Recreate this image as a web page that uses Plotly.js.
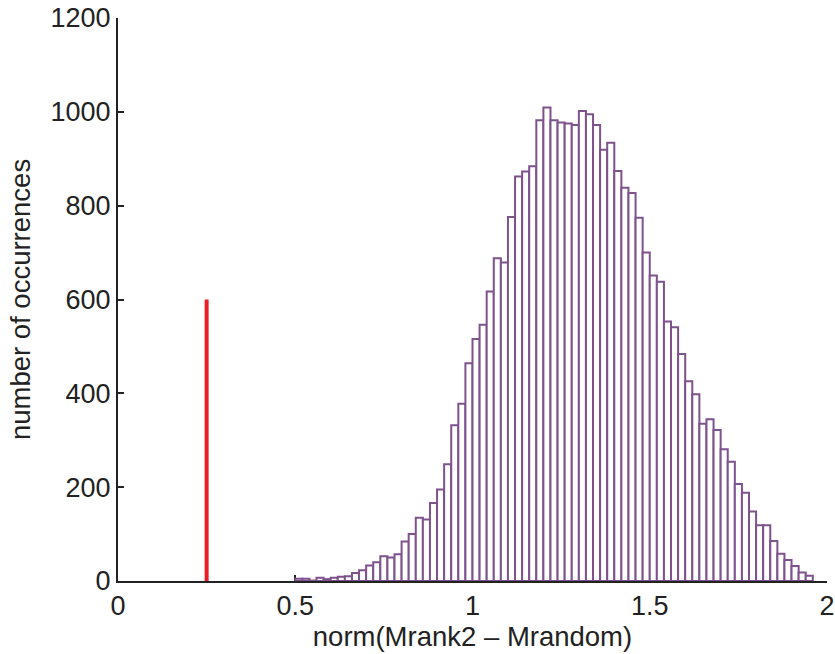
<!DOCTYPE html>
<html>
<head>
<meta charset="utf-8">
<script src="https://cdn.plot.ly/plotly-3.0.1.min.js"></script>
<style>
  html, body { margin: 0; padding: 0; background: #ffffff; }
  #chart { width: 835px; height: 654px; }
</style>
</head>
<body>
<div id="chart"></div>
<script>
// Histogram bin centres (bin width 0.02)
const binCenters = [
  0.51,0.53,0.55,0.57,0.59,0.61,0.63,0.65,0.67,0.69,
  0.71,0.73,0.75,0.77,0.79,0.81,0.83,0.85,0.87,0.89,
  0.91,0.93,0.95,0.97,0.99,1.01,1.03,1.05,1.07,1.09,
  1.11,1.13,1.15,1.17,1.19,1.21,1.23,1.25,1.27,1.29,
  1.31,1.33,1.35,1.37,1.39,1.41,1.43,1.45,1.47,1.49,
  1.51,1.53,1.55,1.57,1.59,1.61,1.63,1.65,1.67,1.69,
  1.71,1.73,1.75,1.77,1.79,1.81,1.83,1.85,1.87,1.89,
  1.91,1.93,1.95
];
const binWidth = 0.02;
// Number of occurrences in each bin
const counts = [
  5,5,1,7,4,7,9,10,17,23,
  33,40,53,50,57,84,100,135,131,166,
  195,249,332,378,464,516,546,617,688,679,
  776,862,873,884,982,1009,982,977,975,972,
  1002,995,972,919,934,874,838,827,774,700,
  651,638,553,541,484,426,398,335,345,322,
  281,254,207,188,148,119,119,85,58,45,
  32,18,11
];
// Reference value (red line)
const refX = [0.25, 0.25];
const refY = [0, 600];

const xTickVals = [0, 0.5, 1, 1.5, 2];
const xTickText = ['0', '0.5', '1', '1.5', '2'];
const yTickVals = [0, 200, 400, 600, 800, 1000, 1200];
const yTickText = ['0', '200', '400', '600', '800', '1000', '1200'];

const purple = 'rgb(126,82,140)';
const fontFam = '"Liberation Sans", Arial, Helvetica, sans-serif';

const traces = [
  {
    type: 'bar',
    x: binCenters,
    y: counts,
    width: binCenters.map(() => binWidth),
    marker: { color: '#ffffff', line: { color: purple, width: 2 } },
    hoverinfo: 'x+y',
    showlegend: false
  },
  {
    type: 'scatter',
    mode: 'lines',
    x: refX,
    y: refY,
    line: { color: 'rgb(235,30,40)', width: 4 },
    showlegend: false
  }
];

const axisCommon = {
  showline: true,
  linecolor: '#222222',
  linewidth: 2,
  ticks: 'inside',
  ticklen: 6,
  tickwidth: 2,
  tickcolor: '#222222',
  showgrid: false,
  zeroline: false,
  tickfont: { family: fontFam, size: 27, color: '#222222' },
  layer: 'below traces'
};

const layout = {
  width: 835,
  height: 654,
  margin: { l: 118, r: 8, t: 18, b: 73 },
  paper_bgcolor: '#ffffff',
  plot_bgcolor: '#ffffff',
  showlegend: false,
  bargap: 0,
  xaxis: Object.assign({}, axisCommon, {
    range: [0, 2],
    tickmode: 'array',
    tickvals: xTickVals,
    ticktext: xTickText,
    title: { text: 'norm(Mrank2 \u2013 Mrandom)', font: { family: fontFam, size: 27.5, color: '#222222' }, standoff: 0 }
  }),
  yaxis: Object.assign({}, axisCommon, {
    range: [0, 1200],
    tickmode: 'array',
    tickvals: yTickVals,
    ticktext: yTickText,
    title: { text: 'number of occurrences', font: { family: fontFam, size: 27.5, color: '#222222' }, standoff: 12 }
  })
};

Plotly.newPlot('chart', traces, layout, { displayModeBar: false, staticPlot: true });
</script>
</body>
</html>
